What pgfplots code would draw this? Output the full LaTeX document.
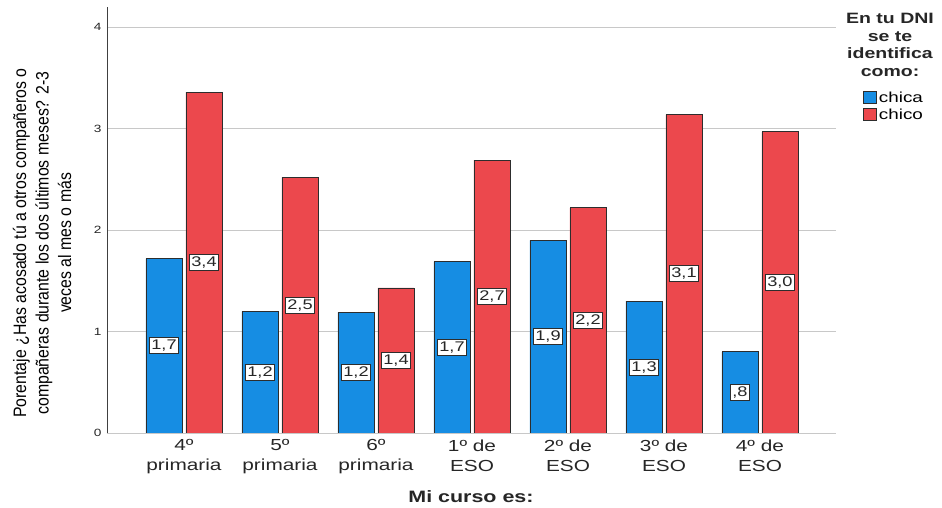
\documentclass[border=0pt]{standalone}
\usepackage{fontspec}
\setmainfont[FakeStretch=1.3]{Liberation Sans}
\newfontfamily\narrowfont[FakeStretch=0.88]{Liberation Sans}
\usepackage{pgfplots}
\pgfplotsset{compat=1.18}
\usepackage{pgfplotstable}
\definecolor{cblue}{RGB}{22,141,227}
\definecolor{cred}{RGB}{236,72,77}
\definecolor{edge}{RGB}{45,45,45}
\definecolor{gridc}{RGB}{200,200,200}

\pgfplotstableread{
x chica chico
0 1.72 3.36
1 1.20 2.52
2 1.19 1.43
3 1.69 2.69
4 1.90 2.22
5 1.30 3.14
6 0.80 2.97
}\data

\begin{document}
\begin{tikzpicture}
\path[use as bounding box] (-107pt,-75pt) rectangle (835pt,433pt);
\begin{axis}[
  at={(0,0)}, anchor=south west, scale only axis,
  width=729pt, height=426pt,
  xmin=-0.802, xmax=6.792, ymin=0, ymax=4.2,
  axis lines*=left,
  x axis line style={draw=gridc, line width=0.8pt, -},
  y axis line style={draw=black!75, line width=0.8pt, -},
  major tick length=0pt,
  ytick={0,1,2,3,4},
  ymajorgrids, grid style={draw=gridc, line width=0.8pt},
  xtick={0,1,2,3,4,5,6},
  xticklabels={{4º\\primaria},{5º\\primaria},{6º\\primaria},{1º de\\ESO},{2º de\\ESO},{3º de\\ESO},{4º de\\ESO}},
  xticklabel style={align=center, font=\fontsize{16}{20}\selectfont, text=black!85, yshift=-3pt},
  yticklabel style={font=\fontsize{10.5}{11}\selectfont, text=black!85, xshift=-2pt},
  /pgf/number format/assume math mode=true,
  legend style={draw=none, fill=none, at={(1.037,0.805)}, anchor=north west,
    font=\fontsize{14.5}{16}\selectfont, row sep=1pt, inner sep=0pt,
    legend cell align=left},
  legend image code/.code={\draw[#1] (0pt,-5.5pt) rectangle (13pt,6.5pt);},
]
\addplot[ybar, bar width=0.375, bar shift=-0.2083, fill=cblue, draw=edge, line width=0.8pt] table[x=x, y=chica]{\data};
\addlegendentry{chica}
\addplot[ybar, bar width=0.375, bar shift=0.2083, fill=cred, draw=edge, line width=0.8pt] table[x=x, y=chico]{\data};
\addlegendentry{chico}
\addplot[forget plot, only marks, mark=none, point meta=explicit,
  nodes near coords={\pgfmathprintnumber[fixed, precision=1, fixed zerofill, use comma, skip 0.]{\pgfplotspointmeta}},
  every node near coord/.append style={anchor=center, fill=white, draw=edge, line width=0.8pt, inner sep=2.2pt, font=\fontsize{14}{14}\selectfont, text=black!85}]
  table[x expr=\thisrow{x}-0.2083, y expr=\thisrow{chica}/2, meta=chica]{\data};
\addplot[forget plot, only marks, mark=none, point meta=explicit,
  nodes near coords={\pgfmathprintnumber[fixed, precision=1, fixed zerofill, use comma, skip 0.]{\pgfplotspointmeta}},
  every node near coord/.append style={anchor=center, fill=white, draw=edge, line width=0.8pt, inner sep=2.2pt, font=\fontsize{14}{14}\selectfont, text=black!85}]
  table[x expr=\thisrow{x}+0.2083, y expr=\thisrow{chico}/2, meta=chico]{\data};
\end{axis}
\node[rotate=90, align=center, font=\narrowfont\fontsize{18}{22.5}\selectfont, text=black] at (-65pt,190pt)
  {Porentaje ¿Has acosado tú a otros compañeros o\\compañeras durante los dos últimos meses? 2-3\\veces al mes o más};
\node[font=\bfseries\fontsize{16.5}{18}\selectfont, text=black!85] at (364pt,-64pt) {Mi curso es:};
\node[anchor=north, align=center, font=\bfseries\fontsize{15}{17.5}\selectfont, text=black!85] at (783pt,423pt)
  {En tu DNI\\se te\\identifica\\como:};
\end{tikzpicture}
\end{document}
